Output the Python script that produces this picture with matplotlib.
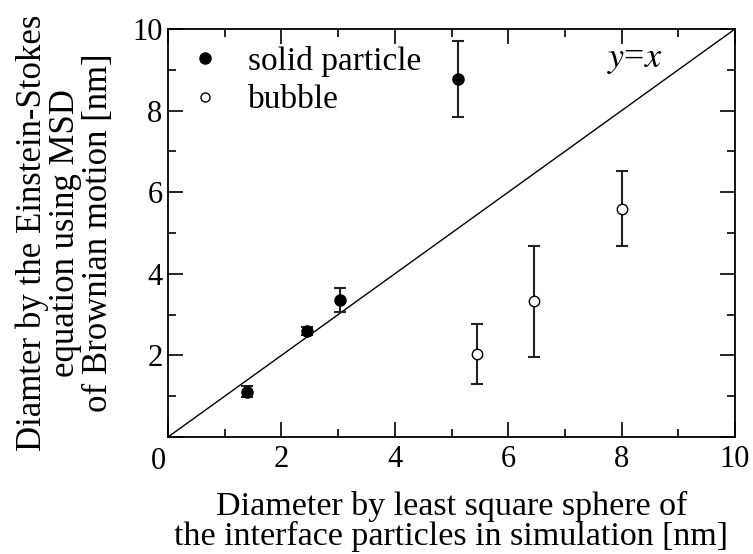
import numpy as np
import matplotlib.pyplot as plt
from matplotlib.ticker import MultipleLocator, FuncFormatter
from matplotlib.lines import Line2D

plt.rcParams['font.family'] = ['Liberation Serif', 'DejaVu Serif']
plt.rcParams['mathtext.fontset'] = 'stix'

# solid particles
solid_x = [1.39, 2.45, 3.03, 5.11]
solid_y = [1.11, 2.60, 3.35, 8.77]
solid_err = [0.13, 0.10, 0.29, 0.93]

# bubbles
bubble_x = [5.45, 6.45, 8.00]
bubble_y = [2.03, 3.33, 5.59]
bubble_err = [0.73, 1.36, 0.92]

fig = plt.figure(figsize=(7.53, 5.54), dpi=100)
ax = fig.add_axes([168 / 753, 1 - 437 / 554, (735 - 168) / 753, (437 - 29) / 554])

ax.plot([0, 10], [0, 10], color='black', lw=1.0)
ax.errorbar(solid_x, solid_y, yerr=solid_err, fmt='o', color='#222222',
            mfc='black', mec='black', ms=8, capsize=4, elinewidth=1.5,
            capthick=1.5)
ax.errorbar(bubble_x, bubble_y, yerr=bubble_err, fmt='o', color='#222222',
            mfc='white', mec='black', ms=7.5, capsize=4, elinewidth=1.5,
            capthick=1.5)

ax.text(7.75, 9.25, r'$y$=$x$', fontsize=26, ha='left', va='center')

ax.set_xlim(0, 10)
ax.set_ylim(0, 10)
ax.xaxis.set_major_locator(MultipleLocator(2))
ax.xaxis.set_minor_locator(MultipleLocator(1))
ax.yaxis.set_major_locator(MultipleLocator(2))
ax.yaxis.set_minor_locator(MultipleLocator(1))
# one shared "0" under the corner, slightly left
no_zero = FuncFormatter(lambda v, p: '' if v == 0 else f'{v:g}')
ax.xaxis.set_major_formatter(no_zero)
ax.yaxis.set_major_formatter(no_zero)
ax.annotate('0', xy=(0, 0), xytext=(-7, -7.5), textcoords='offset points',
            ha='center', va='top', fontsize=22)
ax.tick_params(which='both', direction='in', top=True, right=True, width=1.2,
               labelsize=22)
ax.tick_params(axis='x', pad=6)
ax.tick_params(axis='y', pad=4)
ax.tick_params(which='major', length=11)
ax.tick_params(which='minor', length=6)
for s in ax.spines.values():
    s.set_linewidth(1.3)

ax.set_xlabel('Diameter by least square sphere of\nthe interface particles in simulation [nm]',
              fontsize=24.5, linespacing=0.97, labelpad=12)
ax.set_ylabel('Diamter by the Einstein-Stokes\nequation using MSD\nof Brownian motion [nm]',
              fontsize=25, linespacing=1.0, labelpad=12)

handles = [
    Line2D([], [], ls='none', marker='o', mfc='black', mec='black', ms=8),
    Line2D([], [], ls='none', marker='o', mfc='white', mec='black', ms=6.5),
]
ax.legend(handles, ['solid particle', 'bubble'], loc='upper left', frameon=False,
          fontsize=24, handlelength=1.2, handletextpad=0.7, borderaxespad=0.2,
          borderpad=0.3, labelspacing=0.25)

fig.savefig('out.png', dpi=100)
